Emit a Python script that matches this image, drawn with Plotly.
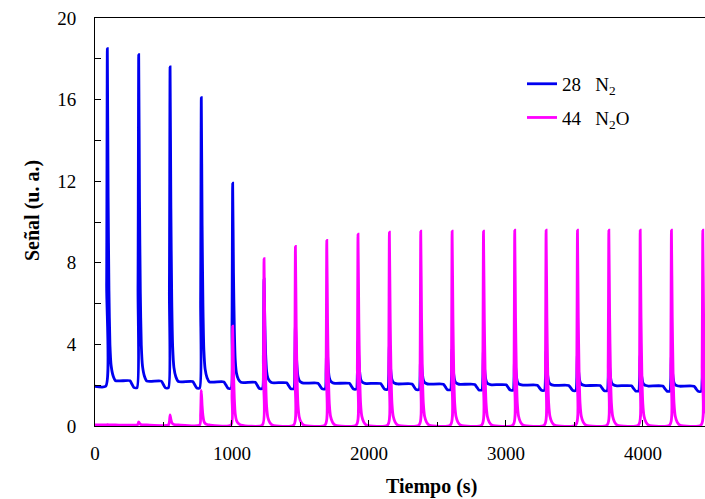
import plotly.graph_objects as go

# --- data ---
pulse_times = [90, 319, 548, 776, 1005, 1234, 1463, 1692, 1920, 2149,
               2378, 2607, 2836, 3064, 3293, 3522, 3751, 3980, 4208, 4437]
n2_peaks = [18.5, 18.2, 17.6, 16.1, 11.9, 7.2, 5.0, 4.5, 4.2, 4.0,
            3.9, 3.8, 3.8, 3.7, 3.7, 3.6, 3.6, 3.5, 3.5, 3.5]
n2_plateau = [2.22, 2.20, 2.18, 2.16, 2.14, 2.12, 2.10, 2.09, 2.08, 2.06,
              2.05, 2.04, 2.02, 2.00, 1.99, 1.98, 1.97, 1.96, 1.95, 1.95]
n2_dip = [1.95, 1.88, 1.87, 1.86, 1.85, 1.84, 1.83, 1.82, 1.81, 1.80,
          1.79, 1.78, 1.77, 1.76, 1.75, 1.74, 1.73, 1.72, 1.71, 1.70]
n2o_peaks = [0.07, 0.2, 0.55, 1.75, 4.9, 8.2, 8.8, 9.1, 9.4, 9.5,
             9.55, 9.55, 9.55, 9.6, 9.6, 9.6, 9.6, 9.6, 9.6, 9.6]
n2o_base = 0.05

# pulse profile (time offset, fraction of peak height)
shape_dt = [-12, -5, 0, 6, 12, 19, 28, 42, 60]
shape_frac = [0, 0.3, 1.0, 0.55, 0.27, 0.11, 0.045, 0.015, 0]
# step down of the N2 baseline before each next pulse
step_dt = [165, 180, 195]
step_frac = [0, 0.5, 1.0]

x_end = 4453

# --- build traces ---
n2_x, n2_y = [0], [n2_dip[0]]
n2o_x, n2o_y = [0], [n2o_base]
for i, t in enumerate(pulse_times):
    P = n2_peaks[i]
    pl = n2_plateau[i]
    dp = n2_dip[i]
    nxt_dip = n2_dip[i + 1] if i + 1 < len(n2_dip) else n2_dip[-1]
    for dt, f in zip(shape_dt, shape_frac):
        base = dp if dt <= 0 else pl
        n2_x.append(t + dt)
        n2_y.append(base + (P - base) * f)
        n2o_x.append(t + dt)
        n2o_y.append(n2o_base + (n2o_peaks[i] - n2o_base) * f)
    for dt, f in zip(step_dt, step_frac):
        n2_x.append(t + dt)
        n2_y.append(pl + (nxt_dip - pl) * f)

serif = "Times New Roman, Liberation Serif, DejaVu Serif, serif"

fig = go.Figure()
fig.add_trace(go.Scatter(x=n2_x, y=n2_y, mode="lines",
                         line=dict(color="#0000f0", width=2.8, shape="spline", smoothing=0.6),
                         name="28&nbsp;&nbsp;&nbsp;N<sub>2</sub>", legendgroup="a"))
fig.add_trace(go.Scatter(x=n2o_x, y=n2o_y, mode="lines",
                         line=dict(color="#ff00ff", width=2.8, shape="spline", smoothing=0.6),
                         name="44&nbsp;&nbsp;&nbsp;N<sub>2</sub>O", legendgroup="b"))

pw, ph = 705 - 95, 499 - 18 - 73

fig.update_layout(
    width=705, height=499,
    margin=dict(l=95, r=0, t=18, b=73),
    plot_bgcolor="white", paper_bgcolor="white",
    font=dict(family=serif, size=17, color="black"),
    showlegend=True,
    legend=dict(x=0.70, y=0.885, xanchor="left", yanchor="top",
                bgcolor="rgba(0,0,0,0)", font=dict(family=serif, size=19),
                traceorder="grouped", tracegroupgap=6),
    xaxis=dict(range=[0, x_end], tickvals=[0, 1000, 2000, 3000, 4000],
               ticks="inside", ticklen=6, tickcolor="black",
               minor=dict(dtick=500, tick0=0, ticks="inside", ticklen=4, tickcolor="black"),
               showline=True, linecolor="black", linewidth=1, mirror=True,
               showgrid=False, zeroline=False, ticklabelstandoff=10,
               tickfont=dict(family=serif, size=19)),
    yaxis=dict(range=[0, 20], tickvals=[0, 4, 8, 12, 16, 20],
               ticks="inside", ticklen=6, tickcolor="black",
               minor=dict(dtick=2, tick0=0, ticks="inside", ticklen=6, tickcolor="black"),
               showline=True, linecolor="black", linewidth=1,
               showgrid=False, zeroline=False, ticklabelstandoff=14,
               tickfont=dict(family=serif, size=19)),
    annotations=[
        dict(text="<b>Tiempo (s)</b>", xref="paper", yref="paper",
             x=(431 - 95) / pw, y=(426 - 487) / ph, xanchor="center", yanchor="middle",
             showarrow=False, font=dict(family=serif, size=20)),
        dict(text="<b>Señal (u. a.)</b>", textangle=-90, xref="paper", yref="paper",
             x=(32 - 95) / pw, y=(426 - 210) / ph, xanchor="center", yanchor="middle",
             showarrow=False, font=dict(family=serif, size=20)),
    ],
)

fig.write_html("out.html")
